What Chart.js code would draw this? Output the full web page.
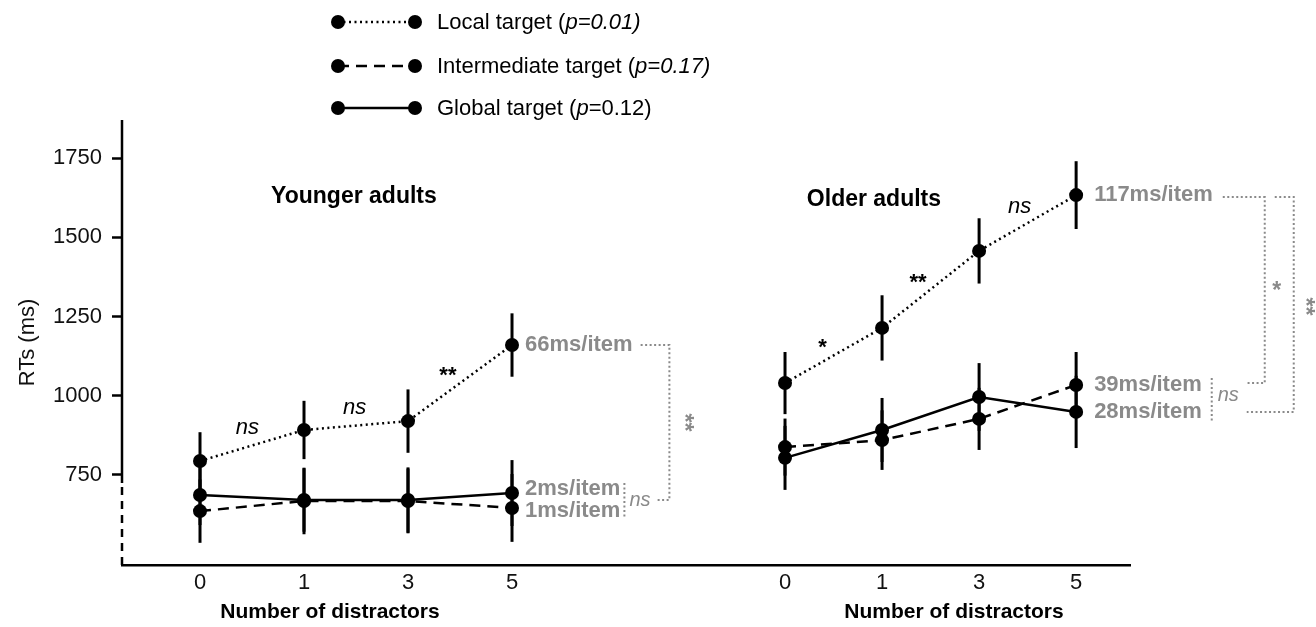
<!DOCTYPE html>
<html><head><meta charset="utf-8">
<script src="https://cdn.jsdelivr.net/npm/chart.js@4"></script>
<style>html,body{margin:0;padding:0;background:#fff}#wrap{width:1316px;height:627px}</style>
</head><body><div id="wrap"><canvas id="c" width="1316" height="627"></canvas></div>
<script>
const categories = ['0', '1', '3', '5'];
const groupTitles = ['Younger adults', 'Older adults'];
const axisTitleX = 'Number of distractors';
const axisTitleY = 'RTs (ms)';
const seriesNames = ['Local target', 'Intermediate target', 'Global target'];
const seriesP = ['0.01', '0.17', '0.12'];

const youngerLocal = [794, 892, 920, 1160];
const youngerLocalSE = [91, 92, 100, 100];
const youngerInter = [636, 668, 668, 646];
const youngerInterSE = [100, 105, 102, 107];
const youngerGlobal = [687, 671, 671, 693];
const youngerGlobalSE = [95, 100, 103, 104];

const olderLocal = [1040, 1214, 1457, 1633];
const olderLocalSE = [98, 103, 103, 107];
const olderInter = [838, 860, 927, 1034];
const olderInterSE = [90, 94, 98, 104];
const olderGlobal = [804, 892, 996, 949];
const olderGlobalSE = [101, 101, 107, 114];

const youngerSlopes = ['66ms/item', '1ms/item', '2ms/item'];
const olderSlopes = ['117ms/item', '39ms/item', '28ms/item'];
const youngerLocalSig = ['ns', 'ns', '**'];
const olderLocalSig = ['*', '**', 'ns'];
const youngerBracketSig = ['**', 'ns'];
const olderBracketSig = ['*', '**', 'ns'];
const yTicks = [750, 1000, 1250, 1500, 1750];

// layout helpers (positions on the linear x scale)
const GROUP_START = [0, 5.625];
const GROUP_STEP = [1, 0.933];
function xOf(g, i) { return GROUP_START[g] + i * GROUP_STEP[g]; }

const FONT = '"Liberation Sans", Arial, sans-serif';
const GREY = '#8a8a8a';
const dashes = [[2, 3.5], [11, 7], []];

const groupData = [
  { vals: [youngerLocal, youngerInter, youngerGlobal], se: [youngerLocalSE, youngerInterSE, youngerGlobalSE] },
  { vals: [olderLocal, olderInter, olderGlobal], se: [olderLocalSE, olderInterSE, olderGlobalSE] }
];

const datasets = [];
groupData.forEach((gd, g) => {
  gd.vals.forEach((arr, s) => {
    datasets.push({
      label: seriesNames[s] + ' ' + groupTitles[g],
      data: arr.map((v, i) => ({ x: xOf(g, i), y: v })),
      se: gd.se[s],
      borderColor: '#000', borderWidth: 2.5, borderDash: dashes[s],
      pointRadius: 7, pointHoverRadius: 7, pointBackgroundColor: '#000', pointBorderWidth: 0,
      tension: 0, fill: false, clip: false
    });
  });
});

const tickPositions = [];
[0, 1].forEach(g => categories.forEach((c, i) => tickPositions.push(xOf(g, i))));

const errorBars = {
  id: 'errorBars',
  beforeDatasetsDraw(chart) {
    const ctx = chart.ctx, xs = chart.scales.x, ys = chart.scales.y;
    ctx.save();
    ctx.strokeStyle = '#000'; ctx.lineWidth = 3; ctx.setLineDash([]);
    chart.data.datasets.forEach(ds => {
      ds.data.forEach((p, i) => {
        const px = xs.getPixelForValue(p.x);
        ctx.beginPath();
        ctx.moveTo(px, ys.getPixelForValue(p.y + ds.se[i]));
        ctx.lineTo(px, ys.getPixelForValue(p.y - ds.se[i]));
        ctx.stroke();
      });
    });
    ctx.restore();
  }
};

function drawMixed(ctx, parts, x, y, size) {
  let cx = x;
  parts.forEach(([t, it]) => {
    ctx.font = (it ? 'italic ' : '') + size + 'px ' + FONT;
    ctx.fillText(t, cx, y);
    cx += ctx.measureText(t).width;
  });
}

function dotLine(ctx, pts) {
  ctx.beginPath();
  ctx.moveTo(pts[0][0], pts[0][1]);
  for (let k = 1; k < pts.length; k++) ctx.lineTo(pts[k][0], pts[k][1]);
  ctx.stroke();
}

const annotations = {
  id: 'annotations',
  afterDraw(chart) {
    const ctx = chart.ctx, xs = chart.scales.x, ys = chart.scales.y, ca = chart.chartArea;
    ctx.save();
    // y axis line: solid, then dashed (axis break)
    ctx.strokeStyle = '#000'; ctx.lineWidth = 2.5;
    const breakY = ys.getPixelForValue(725);
    ctx.beginPath(); ctx.moveTo(ca.left, ca.top); ctx.lineTo(ca.left, breakY); ctx.stroke();
    ctx.setLineDash([8, 6]);
    ctx.beginPath(); ctx.moveTo(ca.left, breakY + 4); ctx.lineTo(ca.left, ca.bottom); ctx.stroke();
    ctx.setLineDash([]);

    // legend
    const legY = [22, 66, 108];
    seriesNames.forEach((name, s) => {
      const y = legY[s];
      ctx.strokeStyle = '#000'; ctx.lineWidth = 2.5; ctx.setLineDash(dashes[s]);
      ctx.beginPath(); ctx.moveTo(338, y); ctx.lineTo(415, y); ctx.stroke();
      ctx.setLineDash([]);
      ctx.fillStyle = '#000';
      [338, 415].forEach(px => { ctx.beginPath(); ctx.arc(px, y, 7, 0, Math.PI * 2); ctx.fill(); });
      ctx.textBaseline = 'middle'; ctx.textAlign = 'left';
      const parts = s === 2
        ? [[name + ' (', false], ['p', true], ['=' + seriesP[s] + ')', false]]
        : [[name + ' (', false], ['p=' + seriesP[s] + ')', true]];
      drawMixed(ctx, parts, 437, y + 1, 22);
    });

    // group titles and x axis titles
    ctx.fillStyle = '#000'; ctx.textAlign = 'center'; ctx.textBaseline = 'middle';
    ctx.font = 'bold 23px ' + FONT;
    ctx.fillText(groupTitles[0], xs.getPixelForValue(1.48), 197);
    ctx.fillText(groupTitles[1], xs.getPixelForValue(6.48), 200);
    ctx.font = 'bold 21px ' + FONT;
    ctx.fillText(axisTitleX, xs.getPixelForValue(1.25), 612);
    ctx.fillText(axisTitleX, xs.getPixelForValue(7.25), 612);

    // significance labels between local-target points
    const sigs = [youngerLocalSig, olderLocalSig];
    const locals = [youngerLocal, olderLocal];
    [0, 1].forEach(g => {
      for (let i = 0; i < 3; i++) {
        const x1 = xs.getPixelForValue(xOf(g, i)), y1 = ys.getPixelForValue(locals[g][i]);
        const x2 = xs.getPixelForValue(xOf(g, i + 1)), y2 = ys.getPixelForValue(locals[g][i + 1]);
        const mx = (x1 + x2) / 2, my = (y1 + y2) / 2;
        const dx = x2 - x1, dy = y2 - y1, L = Math.hypot(dx, dy);
        const nx = dy / L, ny = -dx / L; // upward normal
        const lab = sigs[g][i];
        ctx.fillStyle = '#000';
        if (lab === 'ns') {
          ctx.font = 'italic 22px ' + FONT;
          ctx.fillText(lab, mx + nx * 16, my + ny * 16 - 2);
        } else {
          ctx.font = 'bold 22px ' + FONT;
          ctx.fillText(lab, mx + nx * 12 - 5, my + ny * 12 + 3);
        }
      }
    });

    // slope labels
    const slopes = [youngerSlopes, olderSlopes];
    const slopeVals = [[youngerLocal, youngerInter, youngerGlobal], [olderLocal, olderInter, olderGlobal]];
    const labelPos = [[], []];
    ctx.font = 'bold 22px ' + FONT; ctx.fillStyle = GREY; ctx.textAlign = 'left'; ctx.textBaseline = 'middle';
    [0, 1].forEach(g => {
      const lx = xs.getPixelForValue(xOf(g, 3)) + (g === 0 ? 13 : 18);
      slopes[g].forEach((t, s) => {
        const ly = ys.getPixelForValue(slopeVals[g][s][3]);
        labelPos[g].push([lx, ly, ctx.measureText(t).width]);
      });
    });
    labelPos[0][2][1] -= 4; labelPos[0][1][1] += 3;
    [0, 1].forEach(g => slopes[g].forEach((t, s) => {
      ctx.fillText(t, labelPos[g][s][0], labelPos[g][s][1]);
    }));

    // brackets
    ctx.strokeStyle = GREY; ctx.lineWidth = 2; ctx.setLineDash([2, 2.5]);
    ctx.fillStyle = GREY;
    // younger
    {
      const L = labelPos[0];
      const topY = L[0][1], gy = L[2][1], iy = L[1][1];
      const smallX = L[2][0] + Math.max(L[1][2], L[2][2]) + 4;
      const bx = smallX + 45;
      dotLine(ctx, [[smallX, gy - 6], [smallX, iy + 8]]);
      const midY = (gy + iy) / 2;
      dotLine(ctx, [[L[0][0] + L[0][2] + 8, topY], [bx, topY], [bx, midY], [smallX + 31, midY]]);
      ctx.setLineDash([]);
      ctx.font = 'italic 20px ' + FONT; ctx.textAlign = 'left';
      ctx.fillText(youngerBracketSig[1], smallX + 5, midY);
      ctx.save(); ctx.translate(bx + 14, (topY + midY) / 2); ctx.rotate(Math.PI / 2);
      ctx.font = 'bold 23px ' + FONT; ctx.textAlign = 'center'; ctx.fillText(youngerBracketSig[0], 0, 0);
      ctx.restore();
      ctx.setLineDash([2, 2.5]);
    }
    // older
    {
      const L = labelPos[1];
      const topY = L[0][1] + 2, iy = L[1][1] - 2, gy = L[2][1];
      const smallX = L[1][0] + Math.max(L[1][2], L[2][2]) + 10;
      const innerX = smallX + 53, outerX = smallX + 82;
      dotLine(ctx, [[smallX, iy - 5], [smallX, gy + 10]]);
      dotLine(ctx, [[L[0][0] + L[0][2] + 10, topY], [innerX, topY], [innerX, iy], [smallX + 35, iy]]);
      dotLine(ctx, [[innerX + 10, topY], [outerX, topY], [outerX, gy], [smallX + 35, gy]]);
      ctx.setLineDash([]);
      ctx.font = 'italic 20px ' + FONT; ctx.textAlign = 'left';
      ctx.fillText(olderBracketSig[2], smallX + 6, (iy + gy) / 2 - 2);
      ctx.font = 'bold 23px ' + FONT; ctx.textAlign = 'center';
      ctx.fillText(olderBracketSig[0], innerX + 12, (topY + iy) / 2 + 2);
      ctx.save(); ctx.translate(outerX + 11, (topY + gy) / 2 + 2); ctx.rotate(Math.PI / 2);
      ctx.fillText(olderBracketSig[1], 0, 0);
      ctx.restore();
    }
    ctx.restore();
  }
};

new Chart(document.getElementById('c'), {
  type: 'line',
  data: { datasets },
  options: {
    responsive: false, animation: false, events: [],
    layout: { padding: { top: 120, right: 186, bottom: 0, left: 0 } },
    plugins: { legend: { display: false }, tooltip: { enabled: false } },
    scales: {
      x: {
        type: 'linear', min: -0.75, max: 8.942,
        afterBuildTicks: s => { s.ticks = tickPositions.map(v => ({ value: v })); },
        afterFit: s => { s.height = 62; },
        ticks: {
          autoSkip: false, maxRotation: 0, padding: 5, color: '#111',
          font: { family: FONT, size: 22 },
          callback: (v, idx) => categories[idx % categories.length]
        },
        grid: { display: false, drawTicks: false },
        border: { display: true, color: '#000', width: 2.5 }
      },
      y: {
        type: 'linear', min: 466, max: 1870,
        afterBuildTicks: s => { s.ticks = yTicks.map(v => ({ value: v })); },
        afterFit: s => { s.width = 122; },
        ticks: { padding: 10, color: '#111', font: { family: FONT, size: 22 }, callback: v => String(v) },
        grid: { display: true, drawOnChartArea: false, drawTicks: true, tickLength: 10, tickColor: '#000', tickWidth: 2.5 },
        border: { display: false },
        title: { display: true, text: axisTitleY, color: '#111', font: { family: FONT, size: 22 }, padding: { top: 15, bottom: 0 } }
      }
    }
  },
  plugins: [errorBars, annotations]
});
</script>
</body></html>
